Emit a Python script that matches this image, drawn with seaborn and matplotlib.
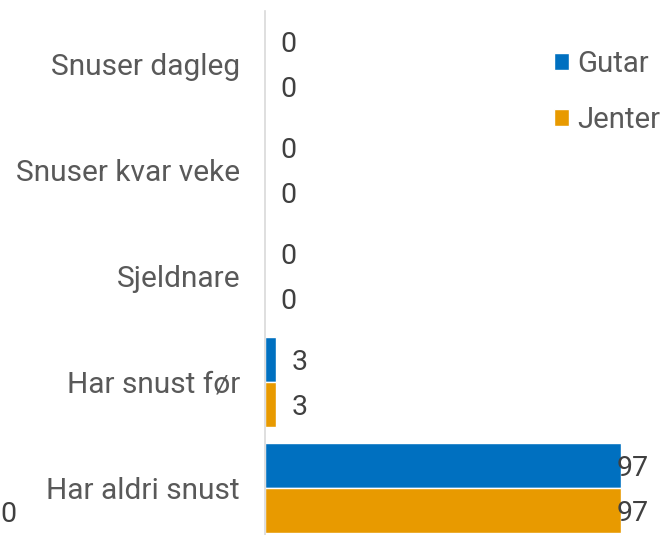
import matplotlib
matplotlib.use("Agg")
import matplotlib.pyplot as plt
import seaborn as sns
import pandas as pd

categories = ["Snuser dagleg", "Snuser kvar veke", "Sjeldnare", "Har snust før", "Har aldri snust"]
gutar = [0, 0, 0, 3, 97]
jenter = [0, 0, 0, 3, 97]
series = ["Gutar", "Jenter"]
colors = ["#0070C0", "#E89A00"]

df = pd.DataFrame({
    "kategori": categories * 2,
    "verdi": gutar + jenter,
    "kjonn": [series[0]] * len(categories) + [series[1]] * len(categories),
})

sns.set_theme(style="white")
plt.rcParams["font.family"] = ["Roboto", "DejaVu Sans"]
FS_VAL = 20.5
FS_CAT = 21.5
FS_LEG = 21.2

fig = plt.figure(figsize=(6.6, 5.35), dpi=100)
ax = fig.add_axes([265 / 660, 1 - 541 / 535, (632 - 265) / 660, 530 / 535])

sns.barplot(data=df, y="kategori", x="verdi", hue="kjonn", order=categories,
            hue_order=series, palette=colors, orient="h", width=0.84,
            saturation=1, ax=ax, legend=True)

ax.set_xlim(0, 100)
ax.set_xlabel("")
ax.set_ylabel("")
ax.set_xticks([])
for s in ["top", "right", "bottom"]:
    ax.spines[s].set_visible(False)
ax.spines["left"].set_color("#D9D9D9")
ax.spines["left"].set_linewidth(1.2)
ax.tick_params(axis="y", length=0, pad=18, labelsize=FS_CAT, labelcolor="#595959")
for lbl in ax.get_yticklabels():
    lbl.set_va("center_baseline")

# value labels next to each bar
for cont in ax.containers:
    for bar in cont:
        v = bar.get_width()
        yc = bar.get_y() + bar.get_height() / 2
        dx = -3 if v > 90 else 11
        ax.annotate(f"{v:.0f}", xy=(v, yc), xytext=(dx, 0), textcoords="offset points",
                    ha="left", va="center_baseline", fontsize=FS_VAL, color="#404040",
                    annotation_clip=False)

leg = ax.legend(loc="upper left", bbox_to_anchor=(554 / 660, 1 - 50 / 535),
                bbox_transform=fig.transFigure, frameon=False, fontsize=FS_LEG,
                handlelength=0.5, handleheight=0.5, handletextpad=0.3,
                labelspacing=0.95, borderaxespad=0, borderpad=0)
for t in leg.get_texts():
    t.set_color("#595959")

fig.text(0, 1 - 511 / 535, "0", fontsize=FS_VAL, color="#404040",
         ha="left", va="center_baseline")

fig.savefig("out.png", dpi=100)
